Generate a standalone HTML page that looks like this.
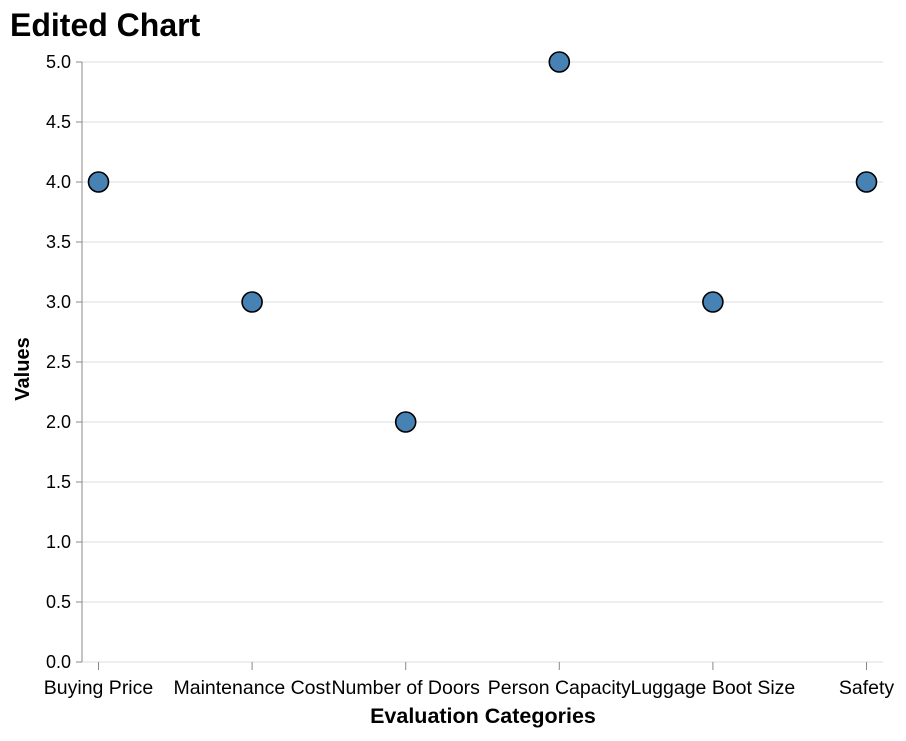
<!DOCTYPE html>
<html><head><meta charset="utf-8"><style>
body{margin:0;background:#fff;font-family:"Liberation Sans",Arial,sans-serif}
</style></head><body>
<svg width="906" height="736" xmlns="http://www.w3.org/2000/svg" font-family="Liberation Sans, Arial, sans-serif">
<text x="10" y="36" font-size="32" font-weight="bold" fill="#000">Edited Chart</text>
<g id="grid"></g>
<g id="axes"></g>
<g id="points"></g>
<text x="483" y="723" font-size="21.5" font-weight="bold" text-anchor="middle">Evaluation Categories</text>
<text transform="translate(29,369) rotate(-90)" font-size="20" font-weight="bold" text-anchor="middle">Values</text>
</svg>
<script>
const categories=["Buying Price","Maintenance Cost","Number of Doors","Person Capacity","Luggage Boot Size","Safety"];
const values=[4,3,2,5,3,4];
const yTicks=[0,0.5,1,1.5,2,2.5,3,3.5,4,4.5,5];
const yTickLabels=["0.0","0.5","1.0","1.5","2.0","2.5","3.0","3.5","4.0","4.5","5.0"];
const NS="http://www.w3.org/2000/svg";
const L=82,R=883,T=62,B=662;
function y(v){return B-(v/5)*(B-T);}
const pad=16.5;
function x(i){return L+pad+i*((R-L-2*pad)/(categories.length-1));}
function mk(tag,attrs,parent){const e=document.createElementNS(NS,tag);for(const k in attrs)e.setAttribute(k,attrs[k]);parent.appendChild(e);return e;}
const grid=document.getElementById('grid'),axes=document.getElementById('axes'),pts=document.getElementById('points');
yTicks.forEach((t,i)=>{
  const g=mk('line',{x1:L,x2:R,y1:y(t),y2:y(t),stroke:'#ddd','stroke-width':1},grid);
  
  
  const tk=mk('line',{x1:L-6,x2:L,y1:y(t),y2:y(t),stroke:'#888'},axes);
  
  
  const lb=mk('text',{x:L-11,y:y(t)+6,'font-size':18,'text-anchor':'end',fill:'#000'},axes);
  lb.textContent=yTickLabels[i];
  
  
});
const ya=mk('line',{x1:L,x2:L,y1:T,y2:B,stroke:'#888'},axes);


categories.forEach((c,i)=>{
  const tk=mk('line',{x1:x(i),x2:x(i),y1:B,y2:B+8,stroke:'#888'},axes);
  
  
  const lb=mk('text',{x:x(i),y:B+32,'font-size':19.5,'text-anchor':'middle',fill:'#000'},axes);
  lb.textContent=c;
  
  
  const p=mk('circle',{cx:x(i),cy:y(values[i]),r:10,fill:'#4682b4',stroke:'#000','stroke-width':1.6},pts);
  
  
});
</script>
</body></html>
